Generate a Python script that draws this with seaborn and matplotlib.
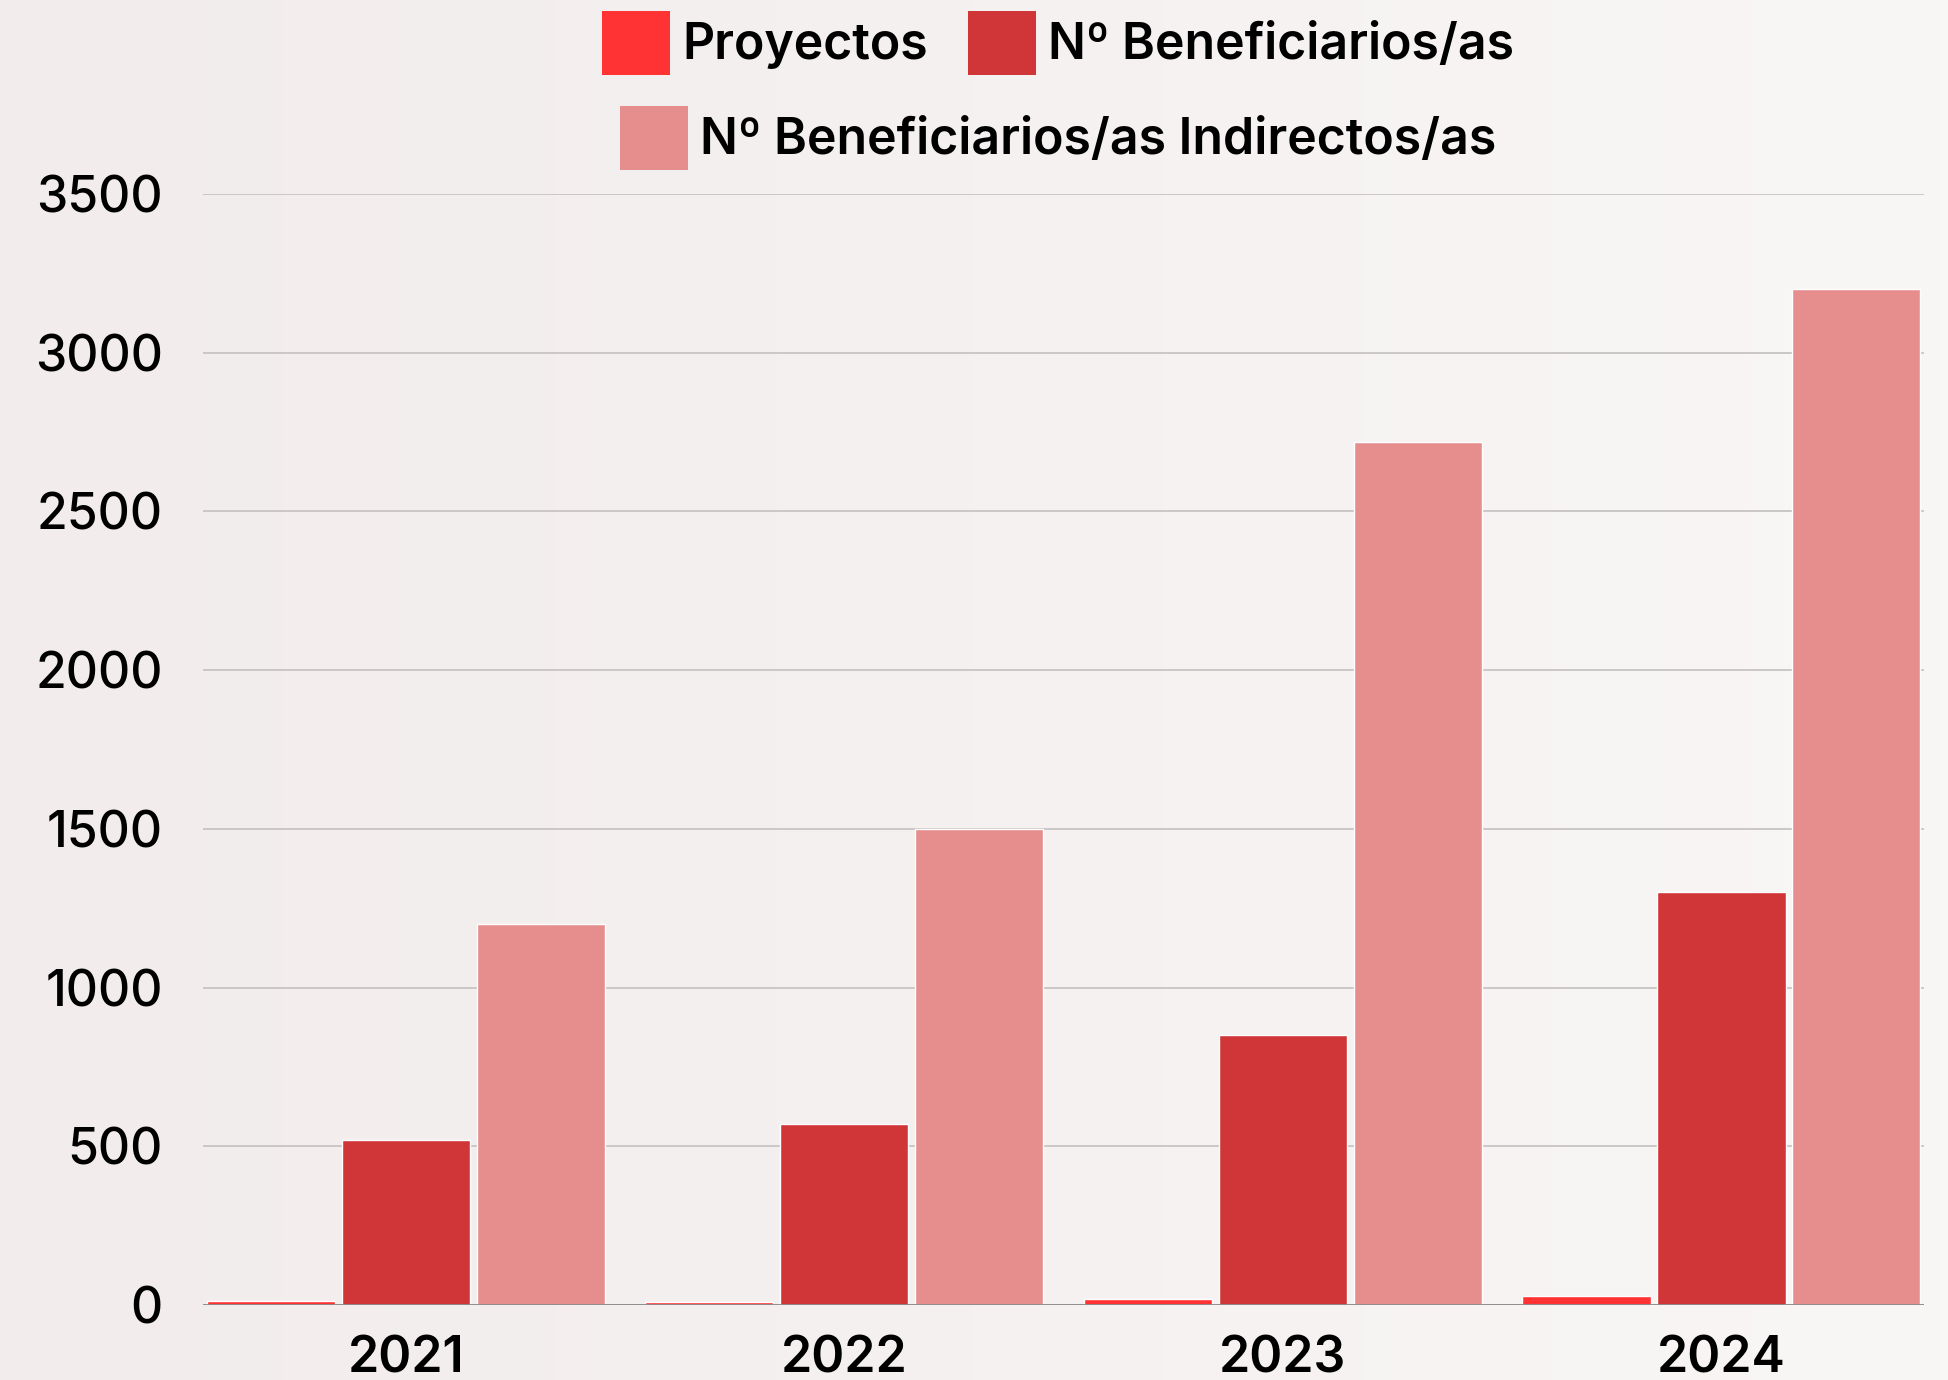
import numpy as np
import pandas as pd
import seaborn as sns
import matplotlib.pyplot as plt
from matplotlib.patches import Patch

years = ["2021", "2022", "2023", "2024"]
proyectos = [12, 11, 18, 30]
beneficiarios = [520, 570, 850, 1300]
indirectos = [1200, 1500, 2720, 3200]
series = ["Proyectos", "Nº Beneficiarios/as", "Nº Beneficiarios/as Indirectos/as"]
colors = ["#ff3333", "#d03538", "#e68e8e"]

df = pd.DataFrame({
    "Año": years * 3,
    "Valor": proyectos + beneficiarios + indirectos,
    "Serie": [series[0]] * 4 + [series[1]] * 4 + [series[2]] * 4,
})

sns.set_theme(style="white")
plt.rcParams['font.family'] = ['Inter', 'DejaVu Sans']
plt.rcParams['text.color'] = 'black'
plt.rcParams['xtick.color'] = 'black'
plt.rcParams['ytick.color'] = 'black'

fig = plt.figure(figsize=(19.49, 13.80), dpi=100)

# soft horizontal gradient background
bg = fig.add_axes([0, 0, 1, 1], zorder=-10)
grad = np.linspace(0, 1, 256)[None, :]
c0 = np.array([242, 236, 236]) / 255
c1 = np.array([249, 246, 246]) / 255
img = c0[None, None, :] * (1 - grad[..., None]) + c1[None, None, :] * grad[..., None]
bg.imshow(img, aspect='auto', extent=[0, 1, 0, 1])
bg.axis('off')

ax = fig.add_axes([0.1042, 0.0543, 0.883, 0.8051])
ax.patch.set_alpha(0)

sns.barplot(data=df, x="Año", y="Valor", hue="Serie", palette=colors,
            width=0.923, gap=0.05, ax=ax, legend=False, saturation=1)

ax.set_xlim(-0.462, 3.462)
ax.set_ylim(0, 3500)
ax.set_yticks(range(0, 3501, 500))
ax.yaxis.grid(True, color="#c9c4c4", linewidth=1.3)
ax.set_axisbelow(True)
ax.axhline(0, color="#8a8a8a", linewidth=2, zorder=3)
for s in ax.spines.values():
    s.set_visible(False)
ax.set_xlabel("")
ax.set_ylabel("")
ax.tick_params(axis='y', length=0, pad=29, labelsize=36, labelcolor='black')
ax.tick_params(axis='x', length=0, pad=22, labelsize=36, labelcolor='black')
for t in ax.get_xticklabels():
    t.set_fontweight('semibold')
for t in ax.get_yticklabels():
    t.set_fontweight('medium')

handles = [Patch(facecolor=c, edgecolor='none') for c in colors]
leg_kw = dict(frameon=False, handlelength=1.35, handleheight=1.6,
              handletextpad=0.25, columnspacing=0.8, loc='center',
              prop={'size': 36, 'weight': 'semibold'})
leg1 = fig.legend(handles[:2], series[:2], ncol=2,
                  bbox_to_anchor=(0.543, 1 - 43 / 1380), **leg_kw)
leg2 = fig.legend(handles[2:], series[2:], ncol=1,
                  bbox_to_anchor=(0.543, 1 - 138 / 1380), **leg_kw)
for leg in (leg1, leg2):
    for t in leg.get_texts():
        t.set_color('black')

fig.savefig("out.png", dpi=100)
